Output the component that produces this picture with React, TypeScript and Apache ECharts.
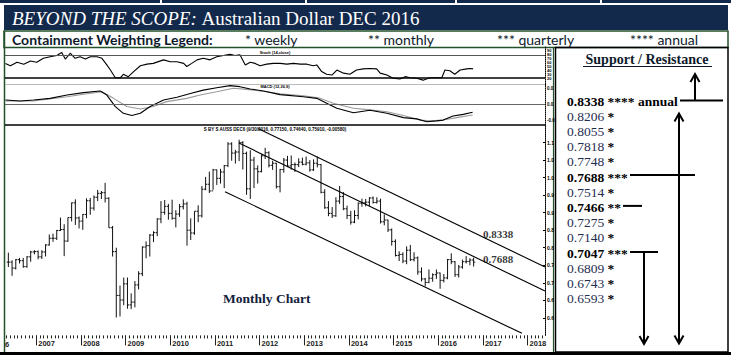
import { useEffect, useRef } from "react";
import * as echarts from "echarts";

// ---------- axes ----------
const X_MIN = 2006.3;
const X_MAX = 2018.39;
const YEAR_TICKS = [2007, 2008, 2009, 2010, 2011, 2012, 2013, 2014, 2015, 2016, 2017, 2018];
const FIRST_BAR_YEAR = 2006;
const FIRST_BAR_MONTH = 5;

// ---------- monthly OHLC (May 2006 .. Oct 2016) ----------
const OPEN = [
  0.759, 0.759, 0.742, 0.766, 0.763, 0.746, 0.774, 0.788,
  0.789, 0.774, 0.788, 0.808, 0.827, 0.827, 0.849, 0.852, 0.819, 0.886, 0.928, 0.885,
  0.876, 0.895, 0.934, 0.913, 0.944, 0.955, 0.957, 0.941, 0.857, 0.789, 0.664, 0.651,
  0.697, 0.637, 0.645, 0.694, 0.726, 0.802, 0.806, 0.836, 0.843, 0.882, 0.901, 0.918,
  0.898, 0.884, 0.896, 0.917, 0.925, 0.850, 0.842, 0.904, 0.891, 0.967, 0.981, 0.962,
  1.022, 0.998, 1.016, 1.034, 1.096, 1.070, 1.073, 1.100, 1.069, 0.968, 1.050, 1.025,
  1.017, 1.062, 1.071, 1.035, 1.041, 0.974, 1.023, 1.050, 1.033, 1.037, 1.037, 1.044,
  1.038, 1.042, 1.022, 1.041, 1.037, 0.958, 0.914, 0.898, 0.891, 0.933, 0.946, 0.911,
  0.892, 0.873, 0.892, 0.927, 0.928, 0.930, 0.942, 0.929, 0.933, 0.874, 0.879, 0.851,
  0.818, 0.778, 0.781, 0.762, 0.793, 0.766, 0.771, 0.731, 0.711, 0.701, 0.713, 0.723,
  0.728, 0.707, 0.714, 0.766, 0.760, 0.723, 0.745, 0.760, 0.761, 0.765,
];
const HIGH = [
  0.786, 0.764, 0.768, 0.771, 0.771, 0.776, 0.791, 0.793,
  0.792, 0.793, 0.810, 0.838, 0.840, 0.851, 0.886, 0.867, 0.886, 0.929, 0.938, 0.889,
  0.896, 0.941, 0.942, 0.949, 0.965, 0.962, 0.985, 0.944, 0.862, 0.800, 0.692, 0.715,
  0.715, 0.670, 0.705, 0.733, 0.804, 0.818, 0.839, 0.847, 0.884, 0.933, 0.936, 0.925,
  0.937, 0.907, 0.925, 0.938, 0.931, 0.884, 0.904, 0.921, 0.976, 1.002, 1.017, 1.025,
  1.023, 1.025, 1.036, 1.101, 1.101, 1.079, 1.108, 1.104, 1.074, 1.078, 1.059, 1.035,
  1.066, 1.085, 1.075, 1.048, 1.042, 1.025, 1.056, 1.062, 1.063, 1.043, 1.055, 1.057,
  1.060, 1.050, 1.052, 1.060, 1.039, 0.967, 0.933, 0.916, 0.944, 0.976, 0.959, 0.920,
  0.905, 0.907, 0.929, 0.940, 0.939, 0.944, 0.946, 0.944, 0.940, 0.895, 0.880, 0.855,
  0.824, 0.790, 0.787, 0.804, 0.808, 0.787, 0.775, 0.744, 0.714, 0.738, 0.727, 0.738,
  0.729, 0.725, 0.768, 0.784, 0.762, 0.751, 0.766, 0.776, 0.770, 0.7715,
];
const LOW = [
  0.745, 0.720, 0.738, 0.755, 0.743, 0.743, 0.760, 0.781,
  0.767, 0.768, 0.775, 0.806, 0.817, 0.822, 0.848, 0.776, 0.817, 0.875, 0.865, 0.855,
  0.851, 0.884, 0.894, 0.906, 0.933, 0.939, 0.929, 0.857, 0.775, 0.601, 0.604, 0.636,
  0.626, 0.625, 0.630, 0.681, 0.719, 0.770, 0.775, 0.816, 0.833, 0.870, 0.894, 0.880,
  0.880, 0.858, 0.888, 0.909, 0.806, 0.822, 0.837, 0.873, 0.886, 0.964, 0.956, 0.965,
  0.979, 0.983, 0.970, 1.030, 1.048, 1.040, 1.047, 1.023, 0.951, 0.939, 0.970, 0.983,
  1.015, 1.053, 1.029, 1.022, 0.969, 0.958, 1.014, 1.030, 1.023, 1.016, 1.030, 1.035,
  1.035, 1.017, 1.019, 1.029, 0.955, 0.911, 0.890, 0.885, 0.888, 0.925, 0.907, 0.882,
  0.866, 0.870, 0.881, 0.917, 0.918, 0.918, 0.926, 0.926, 0.869, 0.864, 0.845, 0.806,
  0.775, 0.762, 0.756, 0.753, 0.762, 0.761, 0.723, 0.704, 0.690, 0.699, 0.703, 0.711,
  0.683, 0.701, 0.710, 0.753, 0.717, 0.715, 0.740, 0.755, 0.750, 0.7464,
];
const CLOSE = [
  0.759, 0.742, 0.766, 0.763, 0.746, 0.774, 0.788, 0.789,
  0.774, 0.788, 0.808, 0.827, 0.827, 0.849, 0.852, 0.819, 0.886, 0.928, 0.885, 0.876,
  0.895, 0.934, 0.913, 0.944, 0.955, 0.957, 0.941, 0.857, 0.789, 0.664, 0.651, 0.697,
  0.637, 0.645, 0.694, 0.726, 0.802, 0.806, 0.836, 0.843, 0.882, 0.901, 0.918, 0.898,
  0.884, 0.896, 0.917, 0.925, 0.850, 0.842, 0.904, 0.891, 0.967, 0.981, 0.962, 1.022,
  0.998, 1.016, 1.034, 1.096, 1.070, 1.073, 1.100, 1.069, 0.968, 1.050, 1.025, 1.017,
  1.062, 1.071, 1.035, 1.041, 0.974, 1.023, 1.050, 1.033, 1.037, 1.037, 1.044, 1.038,
  1.042, 1.022, 1.041, 1.037, 0.958, 0.914, 0.898, 0.891, 0.933, 0.946, 0.911, 0.892,
  0.873, 0.892, 0.927, 0.928, 0.930, 0.942, 0.929, 0.933, 0.874, 0.879, 0.851, 0.818,
  0.778, 0.781, 0.762, 0.793, 0.766, 0.771, 0.731, 0.711, 0.701, 0.713, 0.723, 0.728,
  0.707, 0.714, 0.766, 0.760, 0.723, 0.745, 0.760, 0.761, 0.7649, 0.7591,
];

// ---------- channel lines [time, price] ----------
const CHANNEL_UPPER = [[2011.964, 1.14], [2018.39, 0.745]];
const CHANNEL_MIDDLE = [[2011.538, 1.0987], [2018.39, 0.6766]];
const CHANNEL_LOWER = [[2011.225, 0.9598], [2017.874, 0.556]];
const CHANNEL_LABELS = [
  [2017.0, 0.8338, "0.8338"],
  [2017.0, 0.7688, "0.7688"],
];

// ---------- oscillator panel [time, value 0..100] ----------
const OSC = [
  [2006.31, 58], [2006.42, 52], [2006.57, 61], [2006.72, 56], [2006.87, 64], [2007.01, 61],
  [2007.16, 71], [2007.31, 75], [2007.46, 78], [2007.57, 86], [2007.65, 69], [2007.76, 84],
  [2007.87, 71], [2007.98, 75], [2008.1, 69], [2008.21, 75], [2008.36, 75], [2008.47, 71],
  [2008.58, 54], [2008.66, 41], [2008.77, 21], [2008.88, 21], [2008.95, 30], [2009.06, 24],
  [2009.18, 37], [2009.33, 52], [2009.48, 56], [2009.62, 58], [2009.85, 67], [2010.0, 62],
  [2010.15, 62], [2010.3, 58], [2010.37, 50], [2010.48, 58], [2010.6, 67], [2010.74, 71],
  [2010.89, 67], [2011.04, 75], [2011.19, 78], [2011.34, 81], [2011.45, 78], [2011.56, 80],
  [2011.68, 54], [2011.79, 61], [2011.9, 58], [2012.01, 52], [2012.16, 56], [2012.31, 58],
  [2012.46, 58], [2012.61, 56], [2012.76, 58], [2012.91, 56], [2013.06, 56], [2013.2, 52],
  [2013.28, 54], [2013.39, 37], [2013.5, 30], [2013.62, 28], [2013.73, 41], [2013.88, 33],
  [2014.02, 30], [2014.17, 41], [2014.32, 44], [2014.47, 45], [2014.62, 44], [2014.7, 33],
  [2014.85, 28], [2014.99, 20], [2015.14, 18], [2015.26, 24], [2015.37, 21], [2015.52, 20],
  [2015.66, 15], [2015.81, 21], [2015.96, 21], [2016.08, 21], [2016.15, 41], [2016.26, 39],
  [2016.37, 30], [2016.49, 41], [2016.64, 44], [2016.71, 45], [2016.78, 44],
];
const OSC_LEVELS = [80, 20];

// ---------- MACD panel [time, value] ----------
const MACD = [
  [2006.31, 0.011], [2006.64, 0.0085], [2006.94, 0.011], [2007.31, 0.015], [2007.69, 0.023],
  [2008.06, 0.029], [2008.43, 0.033], [2008.58, 0.023], [2008.77, -0.005], [2008.95, -0.0215],
  [2009.14, -0.027], [2009.33, -0.0215], [2009.55, -0.005], [2009.85, 0.011], [2010.15, 0.0175],
  [2010.45, 0.027], [2010.74, 0.035], [2011.04, 0.041], [2011.34, 0.046], [2011.56, 0.0435],
  [2011.79, 0.038], [2012.09, 0.033], [2012.46, 0.024], [2012.98, 0.019], [2013.28, 0.015],
  [2013.58, -0.001], [2013.73, -0.009], [2014.1, -0.02], [2014.47, -0.014], [2014.85, -0.0215],
  [2015.22, -0.032], [2015.52, -0.035], [2015.74, -0.042], [2015.96, -0.04], [2016.11, -0.038],
  [2016.33, -0.028], [2016.56, -0.024], [2016.77, -0.019],
];
const SIGNAL = [
  [2006.31, 0.0085], [2006.94, 0.0085], [2007.69, 0.019], [2008.06, 0.025], [2008.47, 0.031],
  [2008.73, 0.015], [2009.03, -0.005], [2009.33, -0.011], [2009.62, -0.005], [2009.92, 0.007],
  [2010.37, 0.015], [2010.67, 0.023], [2011.04, 0.031], [2011.41, 0.0395], [2011.71, 0.037],
  [2012.16, 0.031], [2012.46, 0.026], [2012.98, 0.0215], [2013.32, 0.0166], [2013.65, 0.003],
  [2014.1, -0.009], [2014.47, -0.013], [2014.85, -0.0176], [2015.22, -0.027], [2015.59, -0.038],
  [2015.81, -0.04], [2016.11, -0.038], [2016.41, -0.032], [2016.77, -0.0256],
];
const MACD_LEVELS = [0.05, 0, -0.05];

// ---------- support / resistance list ----------
const SR_LEVELS = ["0.8338", "0.8206", "0.8055", "0.7818", "0.7748", "0.7688", "0.7514",
  "0.7466", "0.7275", "0.7140", "0.7047", "0.6809", "0.6743", "0.6593"];
const SR_STARS = ["****", "*", "*", "*", "*", "***", "*", "**", "*", "*", "***", "*", "*", "*"];
const SR_NOTES = ["annual", "", "", "", "", "", "", "", "", "", "", "", "", ""];

const LEGEND_ITEMS = ["* weekly", "** monthly", "*** quarterly", "**** annual"];

const NAVY = "#13294b";
const GREEN = "#23512a";
const SERIF = "Liberation Serif";

export default function App() {
  const ref = useRef<HTMLDivElement>(null);

  useEffect(() => {
    if (!ref.current) return;
    const chart = echarts.init(ref.current, undefined, { renderer: "svg" });

    const bars = OPEN.map((o, i) => {
      const mi = FIRST_BAR_MONTH - 1 + i;
      const t = FIRST_BAR_YEAR + (mi + 0.5) / 12;
      return [t, o, HIGH[i], LOW[i], CLOSE[i]];
    });

    const monthTicks: number[] = [];
    for (let y = 2006; y <= 2018; y++) {
      for (let m = 0; m < 12; m++) {
        const t = y + m / 12;
        if (t >= X_MIN && t <= X_MAX) monthTicks.push(t);
      }
    }

    const dottedAxis = { show: true, lineStyle: { type: "dotted", color: "#000", width: 1 } };
    const hiddenX = (gi: number) => ({
      type: "value", gridIndex: gi, min: X_MIN, max: X_MAX, position: "bottom",
      axisLine: { show: false }, axisTick: { show: false }, axisLabel: { show: false }, splitLine: { show: false },
    });

    const G: any[] = [];
    // top strip
    G.push({ type: "rect", shape: { x: 0, y: 0, width: 731, height: 3 }, style: { fill: NAVY } });
    [160, 305, 455, 600].forEach((x) =>
      G.push({ type: "rect", shape: { x, y: 0, width: 2, height: 3 }, style: { fill: "#fff" } }));
    // title bar
    G.push({ type: "rect", shape: { x: 4, y: 5, width: 724, height: 25 }, style: { fill: NAVY } });
    G.push({
      type: "text", x: 12, y: 18,
      style: {
        text: "{i|BEYOND THE SCOPE:} {n|Australian Dollar DEC 2016}",
        verticalAlign: "middle", fill: "#fff", fontFamily: SERIF, fontSize: 19,
        rich: {
          i: { fontFamily: SERIF, fontSize: 19, fontStyle: "italic", fill: "#fff" },
          n: { fontFamily: SERIF, fontSize: 19, fill: "#fff" },
        },
      },
    });
    // legend bar
    G.push({ type: "rect", shape: { x: 4, y: 31, width: 724, height: 16.5 }, style: { fill: "#fff", stroke: GREEN, lineWidth: 1.5 } });
    G.push({ type: "text", x: 12, y: 39.5, style: { text: "Containment Weighting Legend:", fontFamily: "Lato", fontWeight: "bold", fontSize: 14, fill: "#0d1a2b", verticalAlign: "middle" } });
    const legendX = [245, 368, 497, 630];
    LEGEND_ITEMS.forEach((s, i) =>
      G.push({ type: "text", x: legendX[i], y: 39.5, style: { text: s, fontFamily: "Lato", fontSize: 14, fill: "#0d1a2b", verticalAlign: "middle" } }));
    // left border and chart/right panel borders
    G.push({ type: "line", shape: { x1: 4.5, y1: 31, x2: 4.5, y2: 352 }, style: { stroke: GREEN, lineWidth: 1.5 } });
    G.push({ type: "line", shape: { x1: 553.5, y1: 47, x2: 553.5, y2: 352 }, style: { stroke: GREEN, lineWidth: 1.2 } });
    G.push({ type: "rect", shape: { x: 555.5, y: 47.5, width: 172.5, height: 304.5 }, style: { fill: "none", stroke: "#000", lineWidth: 1.5 } });
    G.push({ type: "rect", shape: { x: 0, y: 352, width: 731, height: 3 }, style: { fill: "#000" } });

    // panel captions
    G.push({ type: "text", x: 275, y: 52, style: { text: "Stoch (14,close)", fontFamily: "Liberation Sans", fontWeight: "bold", fontSize: 4, fill: "#000", align: "center", verticalAlign: "middle" } });
    G.push({ type: "text", x: 275, y: 86.8, style: { text: "MACD (12,26,9)", fontFamily: "Liberation Sans", fontWeight: "bold", fontSize: 4, fill: "#000", align: "center", verticalAlign: "middle" } });
    G.push({ type: "text", x: 275, y: 129.3, style: { text: "S BY S AUSS DEC6 (9/30/2016, 0.77150, 0.74640, 0.75910, -0.00580)", fontFamily: "Liberation Sans", fontWeight: "bold", fontSize: 4.5, fill: "#000", align: "center", verticalAlign: "middle" } });
    G.push({ type: "text", x: 223, y: 298.5, style: { text: "Monthly Chart", fontFamily: SERIF, fontWeight: "bold", fontSize: 13.5, fill: "#14213d", verticalAlign: "middle" } });
    G.push({ type: "text", x: 5, y: 344, style: { text: "6", fontFamily: "Liberation Sans", fontWeight: "bold", fontSize: 7.5, fill: "#222", verticalAlign: "middle" } });

    // right panel
    G.push({ type: "text", x: 647, y: 59.5, style: { text: "Support / Resistance", fontFamily: SERIF, fontWeight: "bold", fontSize: 14, fill: "#0d1a2b", align: "center", verticalAlign: "middle" } });
    G.push({ type: "line", shape: { x1: 583, y1: 66.5, x2: 712, y2: 66.5 }, style: { stroke: "#0d1a2b", lineWidth: 1 } });
    const rowY = (i: number) => 101 + i * 15.2;
    SR_LEVELS.forEach((lvl, i) => {
      const stars = SR_STARS[i];
      const major = stars.length >= 2;
      const note = SR_NOTES[i] ? ` {b|${SR_NOTES[i]}}` : "";
      const text = major ? `{b|${lvl}} {s|${stars}}${note}` : `{n|${lvl}} {s|${stars}}`;
      G.push({
        type: "text", x: 567, y: rowY(i),
        style: {
          text, verticalAlign: "middle", fontFamily: SERIF, fontSize: 13.5, fill: "#000",
          rich: {
            b: { fontFamily: SERIF, fontSize: 13.5, fontWeight: "bold", fill: "#000" },
            n: { fontFamily: SERIF, fontSize: 13.5, fill: "#1f2d50" },
            s: { fontFamily: SERIF, fontSize: 13.5, fontWeight: "bold", fill: "#000" },
          },
        },
      });
    });
    const stroke2 = { stroke: "#000", lineWidth: 2 };
    const hline = (x1: number, x2: number, y: number) =>
      G.push({ type: "line", shape: { x1, y1: y, x2, y2: y }, style: stroke2 });
    const arrow = (x: number, y1: number, y2: number) => {
      G.push({ type: "line", shape: { x1: x, y1, x2: x, y2 }, style: stroke2 });
      const d = y2 < y1 ? 8 : -8;
      G.push({ type: "polyline", shape: { points: [[x - 4.5, y2 + d], [x, y2], [x + 4.5, y2 + d]] }, style: { ...stroke2, fill: "none" } });
    };
    hline(680, 723, rowY(0) - 0.5);
    arrow(695, rowY(0) - 0.5, 74);
    hline(630, 695, rowY(5) - 2);
    arrow(679, rowY(5) - 2, 113.5);
    arrow(679, rowY(5) - 2, 343.5);
    hline(623, 642, rowY(7) - 1.5);
    hline(630, 658, rowY(10) - 1);
    arrow(644, rowY(10) - 1, 344);

    const option: any = {
      animation: false,
      backgroundColor: "#fff",
      grid: [
        { left: 5, width: 540, top: 47, height: 39 },
        { left: 5, width: 540, top: 84, height: 41 },
        { left: 5, width: 540, top: 125, height: 210.4 },
      ],
      xAxis: [
        hiddenX(0),
        hiddenX(1),
        {
          type: "value", gridIndex: 2, min: X_MIN, max: X_MAX, position: "bottom",
          axisLine: { show: false }, splitLine: { show: false },
          axisTick: { show: true, customValues: monthTicks, length: 3, lineStyle: { color: "#222", width: 1 } },
          axisLabel: { show: false },
        },
        {
          type: "value", gridIndex: 2, min: X_MIN, max: X_MAX, position: "bottom", offset: 0,
          axisLine: { show: false }, splitLine: { show: false },
          axisTick: { show: true, customValues: YEAR_TICKS, length: 10, lineStyle: { color: "#222", width: 1 } },
          axisLabel: {
            show: true, customValues: YEAR_TICKS, align: "left", margin: 4, padding: [0, 0, 0, 2],
            fontFamily: "Liberation Sans", fontWeight: "bold", fontSize: 7.5, color: "#222",
            formatter: (v: number) => String(Math.round(v)),
          },
        },
      ],
      yAxis: [
        {
          type: "value", gridIndex: 0, position: "right", min: 0, max: 100, interval: 10,
          axisLine: dottedAxis, axisTick: { show: false }, splitLine: { show: false },
          axisLabel: {
            fontSize: 4, fontWeight: "bold", color: "#000", margin: 2, fontFamily: "Liberation Sans",
            formatter: (v: number) => (v >= 20 && v <= 90 ? String(v) : ""),
          },
        },
        {
          type: "value", gridIndex: 1, position: "right", min: -0.05, max: 0.05, interval: 0.01,
          axisLine: dottedAxis, axisTick: { show: false }, splitLine: { show: false },
          axisLabel: {
            fontSize: 4.5, fontWeight: "bold", color: "#000", margin: 2, fontFamily: "Liberation Sans",
            formatter: (v: number) => {
              if (Math.abs(v) < 1e-6) return "0.0";
              if (Math.abs(Math.abs(v) - 0.04) < 1e-6) return v < 0 ? "-0.0" : "0.0";
              return "";
            },
          },
        },
        {
          type: "value", gridIndex: 2, position: "right", min: 0.55, max: 1.15, interval: 0.05,
          axisLine: dottedAxis, splitLine: { show: false },
          axisTick: { show: true, inside: true, length: 2, lineStyle: { color: "#000" } },
          axisLabel: {
            fontSize: 5, fontWeight: "bold", color: "#000", margin: 2, fontFamily: "Liberation Sans",
            showMinLabel: false, showMaxLabel: false,
            formatter: (v: number) => (Math.floor(v * 10 + 1e-4) / 10).toFixed(1),
          },
        },
      ],
      series: [
        {
          type: "line", xAxisIndex: 0, yAxisIndex: 0, data: OSC, symbol: "none", silent: true,
          lineStyle: { color: "#000", width: 1.1 },
          markLine: {
            silent: true, symbol: "none", label: { show: false },
            data: OSC_LEVELS.map((v, i) => ({ yAxis: v, lineStyle: { color: i === 0 ? "#555" : "#000", width: i === 0 ? 1 : 1.5, type: "solid" } })),
          },
        },
        {
          type: "line", xAxisIndex: 1, yAxisIndex: 1, data: SIGNAL, symbol: "none", silent: true,
          lineStyle: { color: "#9a9a9a", width: 1.1 },
          markLine: {
            silent: true, symbol: "none", label: { show: false },
            data: MACD_LEVELS.map((v, i) => ({
              yAxis: v,
              lineStyle: { color: ["#bbbbbb", "#666", "#000"][i], width: [1, 1, 1.5][i], type: "solid" },
            })),
          },
        },
        {
          type: "line", xAxisIndex: 1, yAxisIndex: 1, data: MACD, symbol: "none", silent: true,
          lineStyle: { color: "#000", width: 1.1 },
        },
        {
          type: "custom", xAxisIndex: 2, yAxisIndex: 2, data: bars, silent: true,
          encode: { x: 0, y: [1, 2, 3, 4] },
          renderItem: (_p: any, api: any) => {
            const t = api.value(0);
            const o = api.coord([t, api.value(1)]);
            const h = api.coord([t, api.value(2)]);
            const l = api.coord([t, api.value(3)]);
            const c = api.coord([t, api.value(4)]);
            const st = { stroke: "#111", lineWidth: 1 };
            return {
              type: "group",
              children: [
                { type: "line", shape: { x1: h[0], y1: h[1], x2: l[0], y2: l[1] }, style: st },
                { type: "line", shape: { x1: o[0] - 1.6, y1: o[1], x2: o[0], y2: o[1] }, style: st },
                { type: "line", shape: { x1: c[0], y1: c[1], x2: c[0] + 1.6, y2: c[1] }, style: st },
              ],
            };
          },
        },
        ...[CHANNEL_UPPER, CHANNEL_MIDDLE, CHANNEL_LOWER].map((d) => ({
          type: "line", xAxisIndex: 2, yAxisIndex: 2, data: d, symbol: "none", silent: true,
          lineStyle: { color: "#000", width: 1.1 },
        })),
        {
          type: "scatter", xAxisIndex: 2, yAxisIndex: 2, symbolSize: 0, silent: true,
          data: CHANNEL_LABELS.map((d, i) => ({ value: [d[0], d[1]], name: d[2], label: { offset: [0, i === 0 ? -2 : 0] } })),
          label: {
            show: true, position: "right", distance: 0, formatter: (p: any) => p.name,
            fontFamily: SERIF, fontWeight: "bold", fontSize: 11, color: "#000",
          },
        },
      ],
      graphic: { elements: G },
    };

    chart.setOption(option);
    return () => chart.dispose();
  }, []);

  return (
    <div
      ref={ref}
      style={{ position: "fixed", left: 0, top: 0, width: 731, height: 355, background: "#fff" }}
    />
  );
}
